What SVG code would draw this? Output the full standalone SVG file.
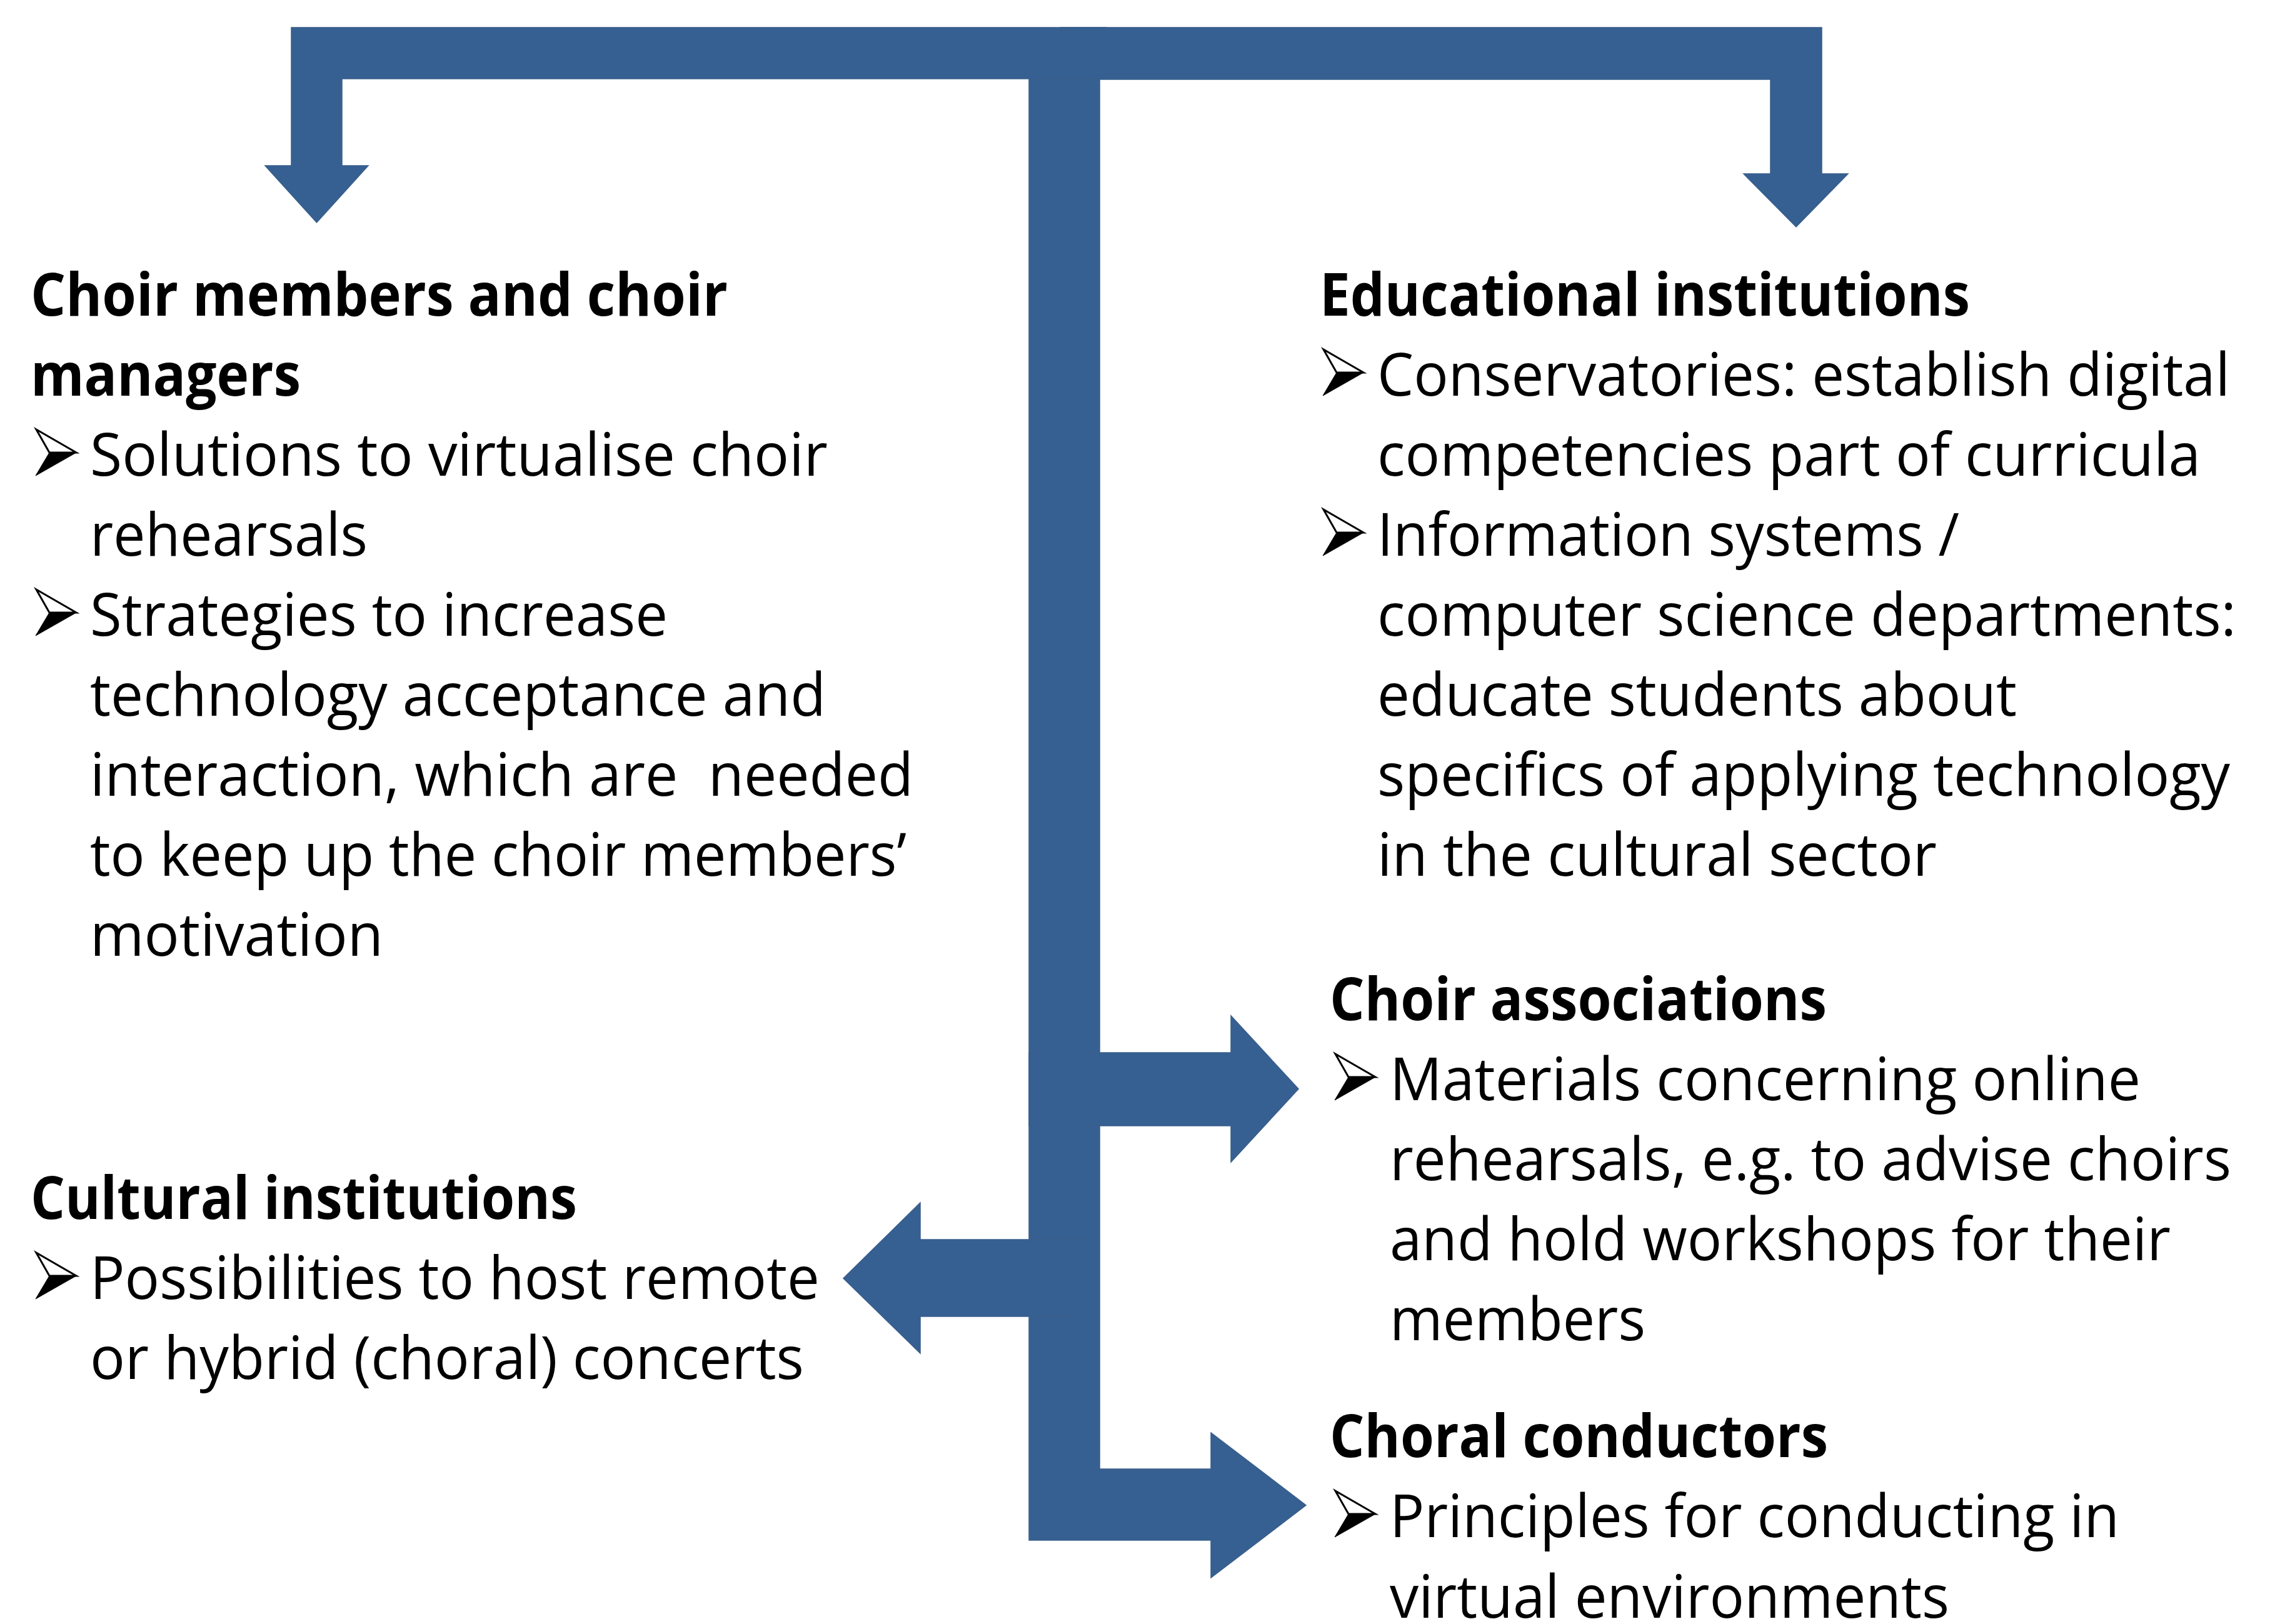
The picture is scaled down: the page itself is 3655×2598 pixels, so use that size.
<svg xmlns="http://www.w3.org/2000/svg" xmlns:xlink="http://www.w3.org/1999/xlink" width="3655" height="2598" viewBox="0 0 3655 2598">
<style>
.t{font-family:"Open Sans","Liberation Sans",sans-serif;font-size:95px;fill:#000}
.h{font-weight:700}
.arr{fill:#376092;stroke:#385D8A;stroke-width:1.5}
</style>
<defs>
<symbol id="bul" overflow="visible">
<polygon points="1,-74 65,-37 22,-37" fill="#fff" stroke="#000" stroke-width="3" stroke-linejoin="miter"/>
<polygon points="22,-37 65,-37 0,0" fill="#000" stroke="#000" stroke-width="1"/>
</symbol>
</defs>
<rect width="3655" height="2598" fill="#fff"/>
<g id="connectors">
<polygon class="arr" points="1770,44 466,44 466,265 424,265 506.5,356 589,265 547,265 547,126 1770,126"/>
<polygon class="arr" points="1696,44 2914,44 2914,278 2956,278 2873,363 2789,278 2832,278 2832,127 1696,127"/>
<polygon class="arr" points="1646,126 1759,126 1759,2350 1937,2350 1937,2292 2089,2408 1937,2524 1937,2464 1646,2464"/>
<polygon class="arr" points="1646,1684 1969,1684 1969,1625 2077,1742 1969,1859 1969,1801 1646,1801"/>
<polygon class="arr" points="1733,1983 1472,1983 1472,1924 1349,2045 1472,2165 1472,2106 1733,2106"/>
</g>
<g id="choir-members">
<text class="t h" x="49" y="505" textLength="1115" lengthAdjust="spacingAndGlyphs">Choir members and choir</text>
<text class="t h" x="49" y="633" textLength="432" lengthAdjust="spacingAndGlyphs">managers</text>
<use xlink:href="#bul" x="57" y="761"/>
<text class="t" x="144" y="761" textLength="1180" lengthAdjust="spacingAndGlyphs">Solutions to virtualise choir</text>
<text class="t" x="144" y="889" textLength="444" lengthAdjust="spacingAndGlyphs">rehearsals</text>
<use xlink:href="#bul" x="57" y="1017"/>
<text class="t" x="144" y="1017" textLength="924" lengthAdjust="spacingAndGlyphs">Strategies to increase</text>
<text class="t" x="144" y="1145" textLength="1177" lengthAdjust="spacingAndGlyphs">technology acceptance and</text>
<text class="t" x="144" y="1273" textLength="1317" lengthAdjust="spacingAndGlyphs" xml:space="preserve">interaction, which are  needed</text>
<text class="t" x="144" y="1401" textLength="1306" lengthAdjust="spacingAndGlyphs">to keep up the choir members’</text>
<text class="t" x="144" y="1529" textLength="469" lengthAdjust="spacingAndGlyphs">motivation</text>
</g>
<g id="cultural-institutions">
<text class="t h" x="49" y="1950" textLength="874" lengthAdjust="spacingAndGlyphs">Cultural institutions</text>
<use xlink:href="#bul" x="57" y="2078"/>
<text class="t" x="144" y="2078" textLength="1167" lengthAdjust="spacingAndGlyphs">Possibilities to host remote</text>
<text class="t" x="144" y="2206" textLength="1142" lengthAdjust="spacingAndGlyphs">or hybrid (choral) concerts</text>
</g>
<g id="educational-institutions">
<text class="t h" x="2111" y="505" textLength="1040" lengthAdjust="spacingAndGlyphs">Educational institutions</text>
<use xlink:href="#bul" x="2116" y="633"/>
<text class="t" x="2203" y="633" textLength="1364" lengthAdjust="spacingAndGlyphs">Conservatories: establish digital</text>
<text class="t" x="2203" y="761" textLength="1317" lengthAdjust="spacingAndGlyphs">competencies part of curricula</text>
<use xlink:href="#bul" x="2116" y="889"/>
<text class="t" x="2203" y="889" textLength="931" lengthAdjust="spacingAndGlyphs">Information systems /</text>
<text class="t" x="2203" y="1017" textLength="1374" lengthAdjust="spacingAndGlyphs">computer science departments:</text>
<text class="t" x="2203" y="1145" textLength="1023" lengthAdjust="spacingAndGlyphs">educate students about</text>
<text class="t" x="2203" y="1273" textLength="1364" lengthAdjust="spacingAndGlyphs">specifics of applying technology</text>
<text class="t" x="2203" y="1401" textLength="895" lengthAdjust="spacingAndGlyphs">in the cultural sector</text>
</g>
<g id="choir-associations">
<text class="t h" x="2127" y="1632" textLength="795" lengthAdjust="spacingAndGlyphs">Choir associations</text>
<use xlink:href="#bul" x="2135" y="1760"/>
<text class="t" x="2223" y="1760" textLength="1201" lengthAdjust="spacingAndGlyphs">Materials concerning online</text>
<text class="t" x="2223" y="1888" textLength="1346" lengthAdjust="spacingAndGlyphs">rehearsals, e.g. to advise choirs</text>
<text class="t" x="2223" y="2016" textLength="1249" lengthAdjust="spacingAndGlyphs">and hold workshops for their</text>
<text class="t" x="2223" y="2144" textLength="409" lengthAdjust="spacingAndGlyphs">members</text>
</g>
<g id="choral-conductors">
<text class="t h" x="2127" y="2331" textLength="797" lengthAdjust="spacingAndGlyphs">Choral conductors</text>
<use xlink:href="#bul" x="2135" y="2459"/>
<text class="t" x="2223" y="2459" textLength="1167" lengthAdjust="spacingAndGlyphs">Principles for conducting in</text>
<text class="t" x="2223" y="2588" textLength="895" lengthAdjust="spacingAndGlyphs">virtual environments</text>
</g>
</svg>
